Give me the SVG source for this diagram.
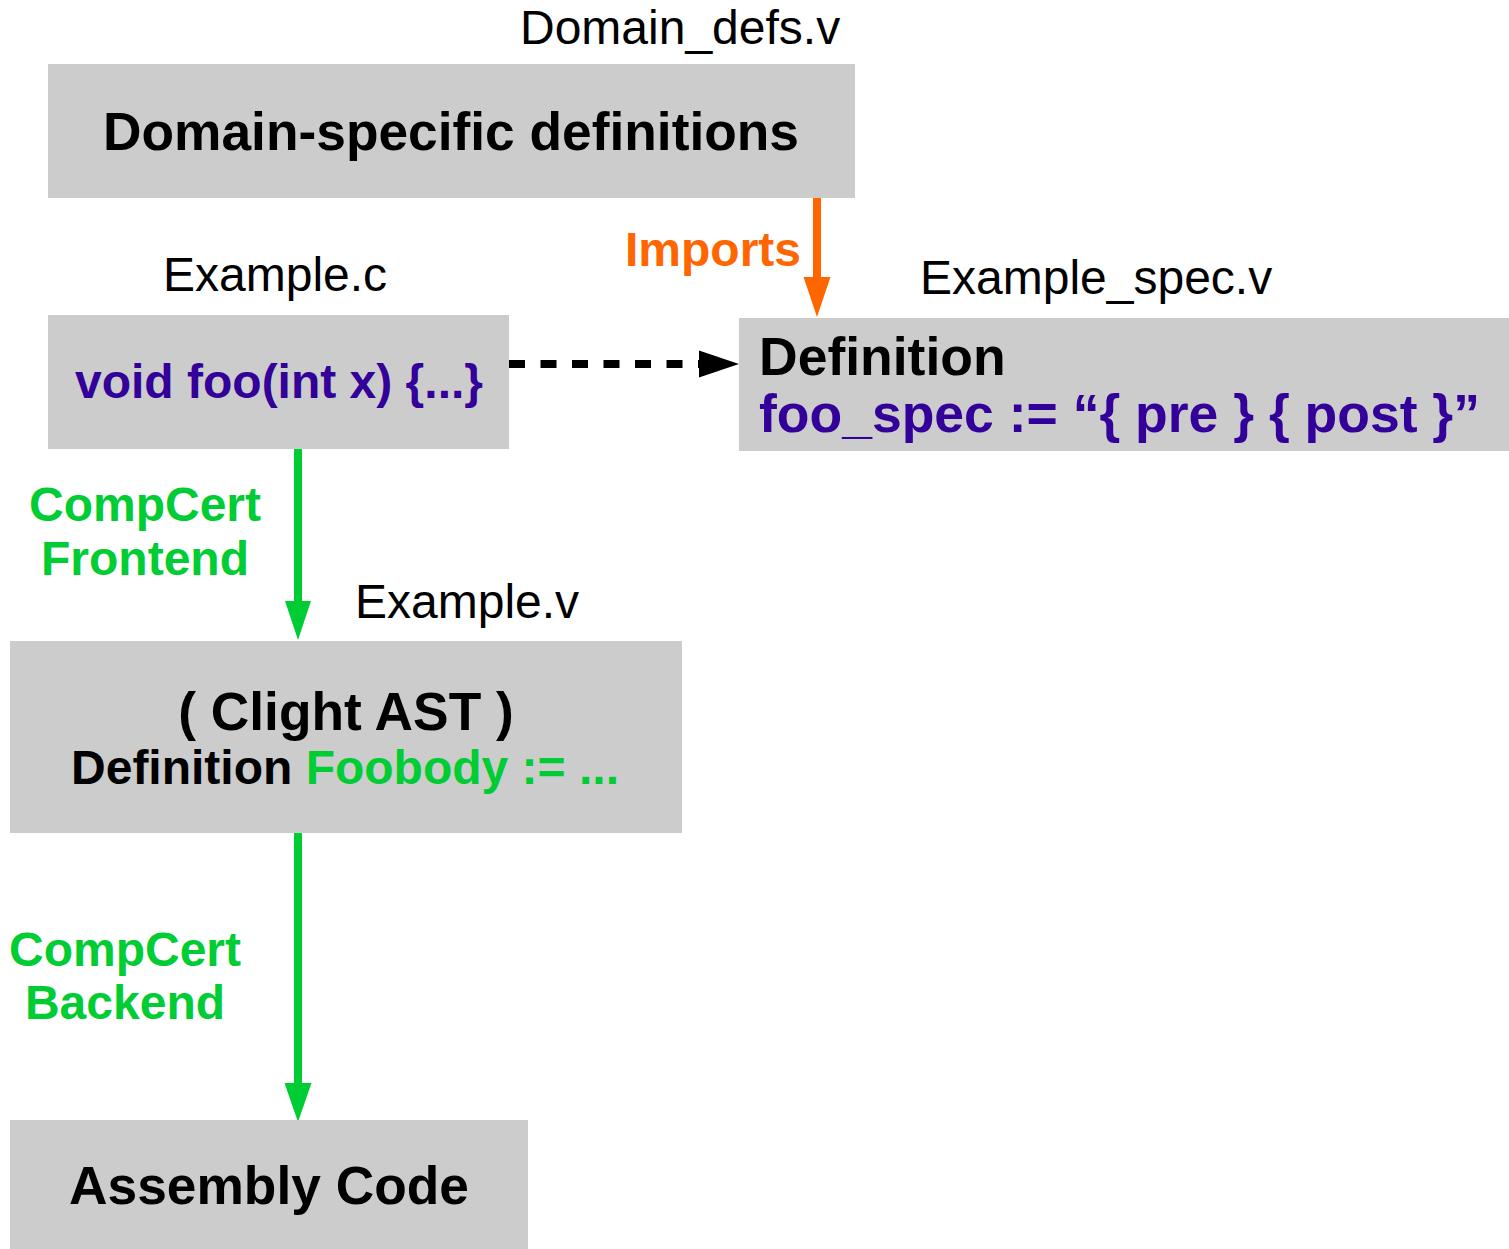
<svg xmlns="http://www.w3.org/2000/svg" width="1509" height="1249" viewBox="0 0 1509 1249">
<style>
.box{fill:#cccccc}
.lbl{font-family:"Liberation Sans",Arial,sans-serif;font-size:48px;fill:#000}
.b{font-family:"Liberation Sans",Arial,sans-serif;font-weight:bold}
.big{font-size:53.3px}
.mid{font-size:48px}
.blk{fill:#000}
.pur{fill:#330099}
.grn{fill:#00cc33}
.org{fill:#ff6600}
</style>
<rect width="1509" height="1249" fill="#fff"/>
<g id="connectors">
  <line x1="817" y1="198" x2="817" y2="280" stroke="#ff6600" stroke-width="8"/>
  <polygon points="803.5,277 830.5,277 817,317" fill="#ff6600"/>
  <line x1="509" y1="364" x2="699" y2="364" stroke="#000" stroke-width="8" stroke-dasharray="16 15.5"/>
  <polygon points="699,350.5 699,377.5 739,364" fill="#000"/>
  <line x1="298" y1="449" x2="298" y2="604" stroke="#00cc33" stroke-width="8"/>
  <polygon points="285,601 311,601 298,640" fill="#00cc33"/>
  <line x1="298" y1="833" x2="298" y2="1086" stroke="#00cc33" stroke-width="8"/>
  <polygon points="284.5,1083 311.5,1083 298,1122" fill="#00cc33"/>
  <text class="b org" x="801" y="266" font-size="48" text-anchor="end">Imports</text>
  <text class="b grn mid" x="145" y="521" text-anchor="middle">CompCert</text>
  <text class="b grn mid" x="145" y="575" text-anchor="middle">Frontend</text>
  <text class="b grn mid" x="125" y="966" text-anchor="middle">CompCert</text>
  <text class="b grn mid" x="125" y="1019" text-anchor="middle">Backend</text>
</g>
<g id="domain">
  <text class="lbl" x="520" y="44">Domain_defs.v</text>
  <rect class="box" x="48" y="64" width="807" height="134"/>
  <text class="b big blk" x="451" y="150" text-anchor="middle">Domain-specific definitions</text>
</g>
<g id="example_c">
  <text class="lbl" x="163" y="291">Example.c</text>
  <rect class="box" x="48" y="315" width="461" height="134"/>
  <text class="b mid pur" x="279" y="398" text-anchor="middle">void foo(int x) {...}</text>
</g>
<g id="example_spec">
  <text class="lbl" x="920" y="294">Example_spec.v</text>
  <rect class="box" x="739" y="318" width="770" height="133"/>
  <text class="b blk" font-size="53.5" x="759" y="375">Definition</text>
  <text class="b pur" font-size="53.5" x="759" y="432">foo_spec := “{ pre } { post }”</text>
</g>
<g id="example_v">
  <text class="lbl" x="355" y="618">Example.v</text>
  <rect class="box" x="10" y="641" width="672" height="192"/>
  <text class="b big blk" x="346" y="730" text-anchor="middle">( Clight AST )</text>
  <text class="b mid blk" x="345" y="784" text-anchor="middle">Definition <tspan class="grn">Foobody := ...</tspan></text>
</g>
<g id="assembly">
  <rect class="box" x="10" y="1120" width="518" height="129"/>
  <text class="b big blk" x="269" y="1204" text-anchor="middle">Assembly Code</text>
</g>
</svg>
